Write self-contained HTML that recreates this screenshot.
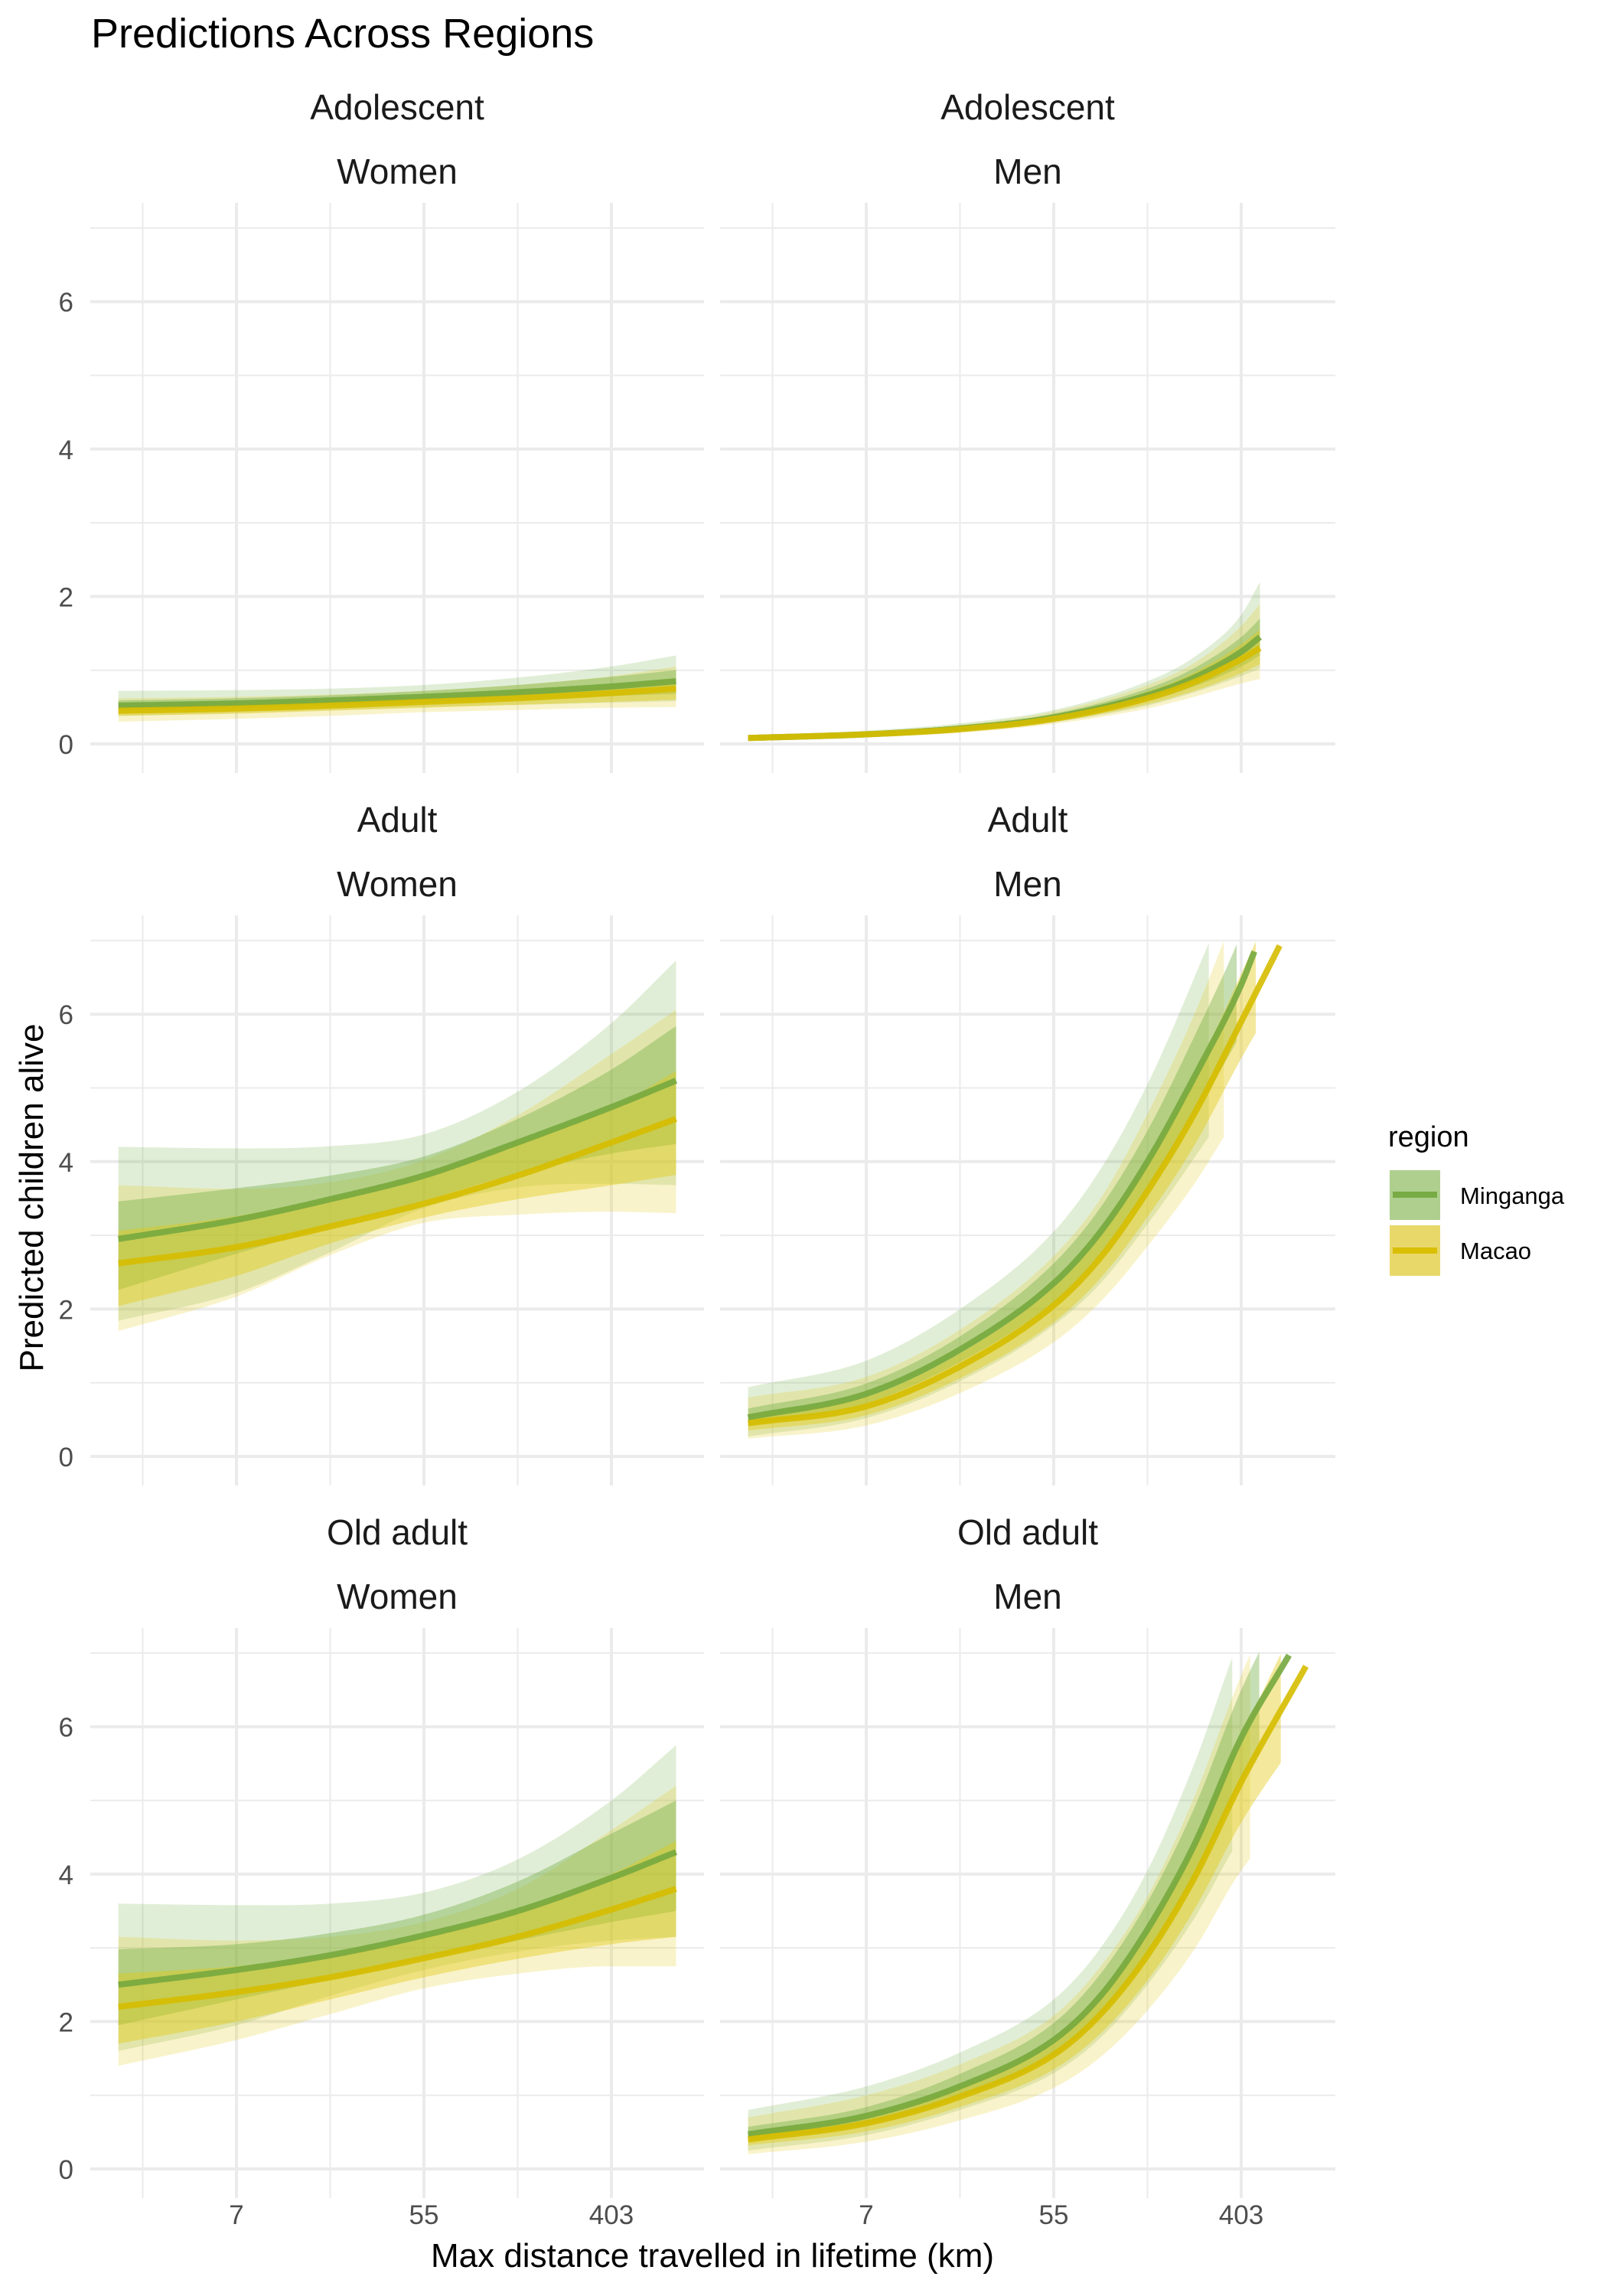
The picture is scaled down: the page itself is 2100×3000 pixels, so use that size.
<!DOCTYPE html>
<html><head><meta charset="utf-8">
<style>
html,body{margin:0;padding:0;background:#fff;}
svg{display:block;font-family:"Liberation Sans",Arial,sans-serif;}
</style></head>
<body>
<svg id="chart" width="2100" height="3000" viewBox="0 0 2100 3000">
<text x="119" y="62" font-size="54" fill="#000">Predictions Across Regions</text>
<text transform="translate(56,1565) rotate(-90)" text-anchor="middle" font-size="44" fill="#000">Predicted children alive</text>
<text x="931" y="2962" text-anchor="middle" font-size="44" fill="#000">Max distance travelled in lifetime (km)</text>
<g>
<text x="1814" y="1498" font-size="38" fill="#000">region</text>
<g>
<rect x="1816" y="1529" width="66" height="65" fill="#aecf8e"/>
<line x1="1820" y1="1561" x2="1878" y2="1561" stroke="#78ab44" stroke-width="8"/>
<text x="1908" y="1573" font-size="31" fill="#000">Minganga</text></g>
<g>
<rect x="1816" y="1601" width="66" height="66" fill="#e8d86a"/>
<line x1="1820" y1="1634" x2="1878" y2="1634" stroke="#d9bf00" stroke-width="8"/>
<text x="1908" y="1645" font-size="31" fill="#000">Macao</text></g>
</g>
</svg>
<script>
// ---- data (x = log of max distance) ----
const ageGroups = ["Adolescent","Adult","Old adult"];
const sexes = ["Women","Men"];
const xTickLabels = ["7","55","403"];
const xTickLogs = [2,4,6];
const yTickLabels = ["0","2","4","6"];
const yTickValues = [0,2,4,6];

const womenX = [0.74,2,3,4,5,6,6.69];
// Adolescent women
const adoWomenMingMean = [0.52,0.55,0.59,0.64,0.70,0.78,0.85];
const adoWomenMingInLo = [0.45,0.48,0.52,0.56,0.60,0.65,0.68];
const adoWomenMingInHi = [0.59,0.62,0.66,0.72,0.80,0.91,1.00];
const adoWomenMingOutLo = [0.38,0.42,0.46,0.50,0.53,0.56,0.58];
const adoWomenMingOutHi = [0.72,0.73,0.75,0.80,0.90,1.05,1.20];
const adoWomenMacMean = [0.45,0.48,0.52,0.57,0.62,0.69,0.75];
const adoWomenMacInLo = [0.38,0.41,0.45,0.49,0.53,0.57,0.60];
const adoWomenMacInHi = [0.52,0.55,0.59,0.65,0.71,0.80,0.88];
const adoWomenMacOutLo = [0.30,0.34,0.38,0.43,0.46,0.49,0.50];
const adoWomenMacOutHi = [0.62,0.64,0.67,0.72,0.80,0.92,1.05];
// Adult women
const adWomenMingMean = [2.95,3.21,3.49,3.81,4.26,4.74,5.10];
const adWomenMingInLo = [2.26,2.75,3.12,3.47,3.84,4.11,4.24];
const adWomenMingInHi = [3.46,3.64,3.81,4.07,4.58,5.25,5.84];
const adWomenMingOutLo = [1.84,2.22,2.77,3.37,3.65,3.70,3.68];
const adWomenMingOutHi = [4.20,4.18,4.21,4.37,4.95,5.88,6.73];
const adWomenMacMean = [2.62,2.84,3.12,3.43,3.81,4.26,4.58];
const adWomenMacInLo = [2.04,2.45,2.89,3.24,3.49,3.68,3.82];
const adWomenMacInHi = [3.06,3.26,3.51,3.84,4.26,4.72,5.23];
const adWomenMacOutLo = [1.70,2.17,2.73,3.17,3.28,3.32,3.30];
const adWomenMacOutHi = [3.68,3.63,3.72,4.02,4.63,5.46,6.06];
// Old adult women
const oldWomenMingMean = [2.50,2.70,2.90,3.17,3.50,3.95,4.30];
const oldWomenMingInLo = [1.95,2.30,2.57,2.85,3.10,3.35,3.50];
const oldWomenMingInHi = [2.98,3.05,3.20,3.45,3.90,4.55,5.00];
const oldWomenMingOutLo = [1.60,1.95,2.35,2.70,2.95,3.10,3.15];
const oldWomenMingOutHi = [3.60,3.58,3.60,3.75,4.20,5.00,5.75];
const oldWomenMacMean = [2.20,2.40,2.60,2.86,3.15,3.52,3.80];
const oldWomenMacInLo = [1.70,2.00,2.30,2.60,2.85,3.05,3.15];
const oldWomenMacInHi = [2.65,2.75,2.90,3.15,3.50,4.00,4.45];
const oldWomenMacOutLo = [1.40,1.75,2.10,2.45,2.65,2.75,2.75];
const oldWomenMacOutHi = [3.15,3.10,3.15,3.35,3.80,4.60,5.20];
// Adolescent men
const adoMenMingX = [0.74,2,3,4,5,5.5,6,6.2];
const adoMenMingMean = [0.08,0.13,0.21,0.36,0.66,0.90,1.25,1.45];
const adoMenMingInLo = [0.06,0.11,0.18,0.32,0.58,0.78,1.05,1.20];
const adoMenMingInHi = [0.10,0.15,0.24,0.41,0.75,1.03,1.45,1.70];
const adoMenMingOutLo = [0.05,0.09,0.16,0.29,0.52,0.70,0.92,1.02];
const adoMenMingOutHi = [0.12,0.18,0.28,0.46,0.85,1.18,1.75,2.20];
const adoMenMacX = [0.74,2,3,4,5,5.5,6,6.2];
const adoMenMacMean = [0.08,0.13,0.20,0.34,0.62,0.84,1.15,1.30];
const adoMenMacInLo = [0.06,0.11,0.17,0.30,0.54,0.72,0.96,1.08];
const adoMenMacInHi = [0.10,0.15,0.23,0.39,0.71,0.97,1.35,1.55];
const adoMenMacOutLo = [0.05,0.09,0.15,0.27,0.48,0.64,0.82,0.88];
const adoMenMacOutHi = [0.12,0.17,0.26,0.44,0.80,1.10,1.60,1.90];
// Adult men
const adMenMingX = [0.74,2,3,4,4.5,5,5.5,6,6.14];
const adMenMingMean = [0.53,0.85,1.45,2.35,3.05,4.00,5.15,6.40,6.85];
const adMenMingInLo = [0.42,0.72,1.28,2.10,2.75,3.62,4.65,5.75,6.15];
const adMenMingInHi = [0.65,0.99,1.63,2.62,3.38,4.42,5.70,7.10,7.60];
const adMenMingOutLo = [0.27,0.52,1.02,1.78,2.35,3.15,4.05,5.00,5.30];
const adMenMingOutHi = [0.94,1.30,2.00,3.05,3.90,5.05,6.50,8.10,8.70];
const adMenMacX = [0.74,2,3,4,4.5,5,5.5,6,6.41];
const adMenMacMean = [0.45,0.68,1.22,2.05,2.70,3.60,4.65,5.90,6.93];
const adMenMacInLo = [0.35,0.56,1.06,1.82,2.42,3.25,4.22,5.40,6.30];
const adMenMacInHi = [0.56,0.81,1.40,2.30,3.00,4.00,5.15,6.55,7.70];
const adMenMacOutLo = [0.24,0.42,0.86,1.55,2.10,2.85,3.70,4.70,5.40];
const adMenMacOutHi = [0.80,1.08,1.72,2.72,3.50,4.65,6.00,7.60,8.90];
// Old adult men
const oldMenMingX = [0.74,2,3,4,4.5,5,5.5,6,6.51];
const oldMenMingMean = [0.47,0.72,1.12,1.75,2.35,3.25,4.40,5.85,6.97];
const oldMenMingInLo = [0.38,0.61,0.97,1.54,2.08,2.90,3.95,5.25,6.20];
const oldMenMingInHi = [0.57,0.84,1.29,1.98,2.65,3.62,4.90,6.50,7.80];
const oldMenMingOutLo = [0.25,0.46,0.80,1.30,1.78,2.50,3.40,4.50,5.20];
const oldMenMingOutHi = [0.80,1.12,1.58,2.30,3.00,4.05,5.50,7.25,8.60];
const oldMenMacX = [0.74,2,3,4,4.5,5,5.5,6,6.69];
const oldMenMacMean = [0.40,0.62,0.98,1.55,2.10,2.90,3.95,5.25,6.82];
const oldMenMacInLo = [0.32,0.51,0.84,1.35,1.84,2.56,3.52,4.70,6.00];
const oldMenMacInHi = [0.49,0.74,1.13,1.77,2.38,3.25,4.40,5.85,7.70];
const oldMenMacOutLo = [0.20,0.37,0.66,1.10,1.52,2.15,2.98,4.05,5.00];
const oldMenMacOutHi = [0.70,1.00,1.42,2.08,2.75,3.70,5.05,6.70,8.60];

const NS = "http://www.w3.org/2000/svg";
const svg = document.getElementById("chart");
const Y_MAX = 7.02;
const colX = [118, 941], panelW = [802, 804];
const rowY0 = [972, 1903, 2834];
const UNIT = 96.3, LOGPX = 122.5;
function xScale(col, l){ return colX[col] + 191 + (l - 2) * LOGPX; }
function yScale(row, v){ return rowY0[row] - v * UNIT; }
function mk(tag, attrs, parent){ const e = document.createElementNS(NS, tag); for (const k in attrs) e.setAttribute(k, attrs[k]); (parent||svg).appendChild(e); return e; }

function monotone(xs, ys){
  const n = xs.length, d = [], m = [];
  for (let i=0;i<n-1;i++) d.push((ys[i+1]-ys[i])/(xs[i+1]-xs[i]));
  m[0]=d[0]; m[n-1]=d[n-2];
  for (let i=1;i<n-1;i++) m[i] = d[i-1]*d[i] <= 0 ? 0 : (d[i-1]+d[i])/2;
  return function(t){
    let i=0; while(i<n-2 && t>xs[i+1]) i++;
    const h=xs[i+1]-xs[i], s=(t-xs[i])/h;
    const h00=2*s*s*s-3*s*s+1, h10=s*s*s-2*s*s+s, h01=-2*s*s*s+3*s*s, h11=s*s*s-s*s;
    return h00*ys[i]+h10*h*m[i]+h01*ys[i+1]+h11*h*m[i+1];
  };
}
function samples(xs){ const out=[]; const N=200; for(let i=0;i<=N;i++) out.push(xs[0]+(xs[xs.length-1]-xs[0])*i/N); return out; }

const panels = [
  {row:0,col:0,x:womenX,x2:womenX,m:[adoWomenMingMean,adoWomenMingInLo,adoWomenMingInHi,adoWomenMingOutLo,adoWomenMingOutHi],y:[adoWomenMacMean,adoWomenMacInLo,adoWomenMacInHi,adoWomenMacOutLo,adoWomenMacOutHi]},
  {row:0,col:1,x:adoMenMingX,x2:adoMenMacX,m:[adoMenMingMean,adoMenMingInLo,adoMenMingInHi,adoMenMingOutLo,adoMenMingOutHi],y:[adoMenMacMean,adoMenMacInLo,adoMenMacInHi,adoMenMacOutLo,adoMenMacOutHi]},
  {row:1,col:0,x:womenX,x2:womenX,m:[adWomenMingMean,adWomenMingInLo,adWomenMingInHi,adWomenMingOutLo,adWomenMingOutHi],y:[adWomenMacMean,adWomenMacInLo,adWomenMacInHi,adWomenMacOutLo,adWomenMacOutHi]},
  {row:1,col:1,x:adMenMingX,x2:adMenMacX,m:[adMenMingMean,adMenMingInLo,adMenMingInHi,adMenMingOutLo,adMenMingOutHi],y:[adMenMacMean,adMenMacInLo,adMenMacInHi,adMenMacOutLo,adMenMacOutHi]},
  {row:2,col:0,x:womenX,x2:womenX,m:[oldWomenMingMean,oldWomenMingInLo,oldWomenMingInHi,oldWomenMingOutLo,oldWomenMingOutHi],y:[oldWomenMacMean,oldWomenMacInLo,oldWomenMacInHi,oldWomenMacOutLo,oldWomenMacOutHi]},
  {row:2,col:1,x:oldMenMingX,x2:oldMenMacX,m:[oldMenMingMean,oldMenMingInLo,oldMenMingInHi,oldMenMingOutLo,oldMenMingOutHi],y:[oldMenMacMean,oldMenMacInLo,oldMenMacInHi,oldMenMacOutLo,oldMenMacOutHi]}
];

function ribbon(g, p, xs, lo, hi, fill, op, name){
  const fl = monotone(xs, lo), fh = monotone(xs, hi);
  const ts = []; for (const t of samples(xs)) { if (fh(t) > Y_MAX) break; ts.push(t); }
  if (ts.length < 2) return;
  let d = "M" + ts.map(t => xScale(p.col,t).toFixed(1)+","+yScale(p.row,fh(t)).toFixed(1)).join("L");
  d += "L" + ts.slice().reverse().map(t => xScale(p.col,t).toFixed(1)+","+yScale(p.row,fl(t)).toFixed(1)).join("L") + "Z";
  const e = mk("path", {d:d, fill:fill, "fill-opacity":op}, g);
  
  
}
function line(g, p, xs, ys, col, name){
  const f = monotone(xs, ys);
  const ts = []; for (const t of samples(xs)) { if (f(t) > Y_MAX) break; ts.push(t); }
  const d = "M" + ts.map(t => xScale(p.col,t).toFixed(1)+","+yScale(p.row,f(t)).toFixed(1)).join("L");
  const e = mk("path", {d:d, fill:"none", stroke:col, "stroke-width":8, "stroke-opacity":0.9}, g);
  
  
}

panels.forEach((p) => {
  const left = colX[p.col], w = panelW[p.col];
  const top = rowY0[p.row] - 707, h = 745;
  const g = mk("g", {});
  
  
  const cx = left + w/2;
  const s1 = mk("text", {x:cx, y:rowY0[p.row]-832+16, "text-anchor":"middle", "font-size":46, fill:"#1a1a1a"}, g);
  s1.textContent = ageGroups[p.row];
  
  
  const s2 = mk("text", {x:cx, y:rowY0[p.row]-748+16, "text-anchor":"middle", "font-size":46, fill:"#1a1a1a"}, g);
  s2.textContent = sexes[p.col];
  
  
  for (let v=1; v<=7; v+=2) mk("line", {x1:left, x2:left+w, y1:yScale(p.row,v), y2:yScale(p.row,v), stroke:"#ebebeb", "stroke-width":2}, g);
  for (const v of yTickValues) mk("line", {x1:left, x2:left+w, y1:yScale(p.row,v), y2:yScale(p.row,v), stroke:"#ebebeb", "stroke-width":4}, g);
  for (const l of [1,3,5]) mk("line", {x1:xScale(p.col,l), x2:xScale(p.col,l), y1:top, y2:top+h, stroke:"#ebebeb", "stroke-width":2}, g);
  for (const l of xTickLogs) mk("line", {x1:xScale(p.col,l), x2:xScale(p.col,l), y1:top, y2:top+h, stroke:"#ebebeb", "stroke-width":4}, g);
  if (p.col === 0) yTickValues.forEach((v,i) => {
    const t = mk("text", {x:96, y:yScale(p.row,v)+13, "text-anchor":"end", "font-size":35, fill:"#4d4d4d"}, g);
    t.textContent = yTickLabels[i];
    
    
  });
  if (p.row === 2) xTickLogs.forEach((l,i) => {
    const t = mk("text", {x:xScale(p.col,l), y:2906, "text-anchor":"middle", "font-size":35, fill:"#4d4d4d"}, g);
    t.textContent = xTickLabels[i];
    
    
  });
  ribbon(g, p, p.x, p.m[3], p.m[4], "#78b04a", 0.22, "ribbon-outer-minganga");
  ribbon(g, p, p.x2, p.y[3], p.y[4], "#e3c810", 0.22, "ribbon-outer-macao");
  ribbon(g, p, p.x, p.m[1], p.m[2], "#78b04a", 0.42, "ribbon-inner-minganga");
  ribbon(g, p, p.x2, p.y[1], p.y[2], "#e3c810", 0.42, "ribbon-inner-macao");
  line(g, p, p.x, p.m[0], "#76a83e", "line-minganga");
  line(g, p, p.x2, p.y[0], "#d6bd00", "line-macao");
});
</script>
</body></html>
